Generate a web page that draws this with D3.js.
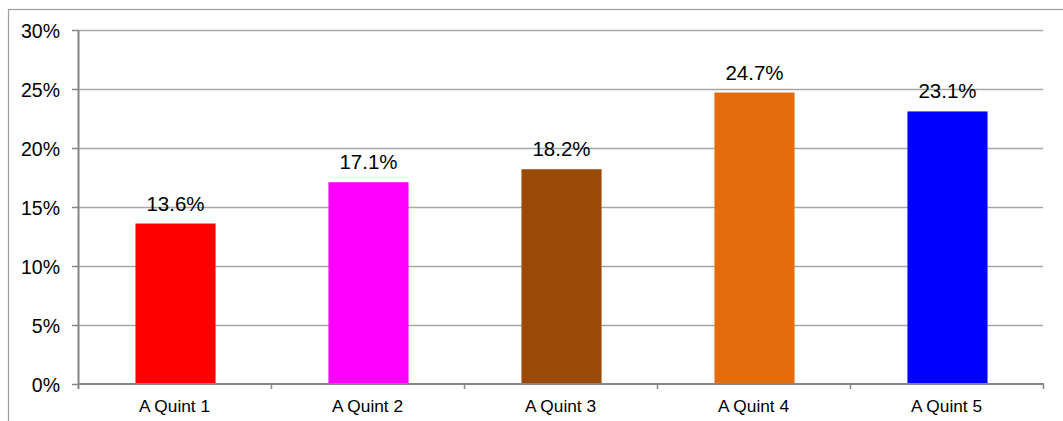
<!DOCTYPE html>
<html>
<head>
<meta charset="utf-8">
<script src="https://cdn.jsdelivr.net/npm/d3@7"></script>
<style>
  html, body { margin: 0; padding: 0; background: #fff; }
  svg { display: block; font-family: "Liberation Sans", Arial, sans-serif; }
</style>
</head>
<body>
<svg id="chart" width="1063" height="421"></svg>
<script>
// Share by quintile
const categories = ["A Quint 1", "A Quint 2", "A Quint 3", "A Quint 4", "A Quint 5"];
const values = [13.6, 17.1, 18.2, 24.7, 23.1];
const barColors = ["#FF0000", "#FF00FF", "#9A4A06", "#E46C0A", "#0000FF"];
const yTicks = [0, 5, 10, 15, 20, 25, 30];

const W = 1063, H = 421;
const plot = { left: 78, right: 1043, top: 30, bottom: 384 };

const svg = d3.select("#chart");

// Outer chart frame (runs past the right and bottom edges)
svg.append("rect")
  .attr("x", 8.5).attr("y", 9.5)
  .attr("width", W + 20).attr("height", H + 20)
  .attr("fill", "none").attr("stroke", "#9c9c9c").attr("stroke-width", 1.2);

const x = d3.scaleBand().domain(categories).range([plot.left, plot.right]).padding(0);
const y = d3.scaleLinear().domain([0, 30]).range([plot.bottom, plot.top]);

// Horizontal gridlines
svg.append("g").selectAll("line")
  .data(yTicks.filter(t => t > 0))
  .join("line")
  .attr("x1", plot.left).attr("x2", plot.right)
  .attr("y1", d => Math.round(y(d)) + 0.5).attr("y2", d => Math.round(y(d)) + 0.5)
  .attr("stroke", "#a6a6a6").attr("stroke-width", 1.5);

// Bars
const barW = x.bandwidth() * 0.415;
svg.append("g").selectAll("rect")
  .data(values)
  .join("rect")
  .attr("x", (d, i) => x(categories[i]) + (x.bandwidth() - barW) / 2 + 1)
  .attr("y", d => y(d))
  .attr("width", barW)
  .attr("height", d => y(0) - y(d))
  .attr("fill", (d, i) => barColors[i]);

// Value labels
svg.append("g").selectAll("text")
  .data(values)
  .join("text")
  .attr("x", (d, i) => x(categories[i]) + x.bandwidth() / 2 + 1)
  .attr("y", d => y(d) - 13)
  .attr("text-anchor", "middle")
  .attr("font-size", "20.5px")
  .attr("fill", "#000")
  .text(d => d.toFixed(1) + "%");

// Y axis
const yAxis = svg.append("g")
  .attr("transform", `translate(${plot.left},0)`)
  .call(d3.axisLeft(y).tickValues(yTicks).tickFormat(d => d + "%").tickSize(6).tickPadding(12));
yAxis.select(".domain").remove();
yAxis.selectAll(".tick line").attr("stroke", "#868686").attr("stroke-width", 1.5);
yAxis.selectAll(".tick text")
  .attr("font-size", "19.5px").attr("fill", "#000")
  .attr("font-family", "'Liberation Sans', Arial, sans-serif")
  .attr("dy", "0.36em");
svg.append("line")
  .attr("x1", plot.left + 0.5).attr("x2", plot.left + 0.5)
  .attr("y1", plot.top).attr("y2", plot.bottom + 5)
  .attr("stroke", "#868686").attr("stroke-width", 2);

// X axis
const xAxis = svg.append("g")
  .attr("transform", `translate(0,${plot.bottom})`)
  .call(d3.axisBottom(x).tickSize(0).tickPadding(16));
xAxis.select(".domain").remove();
xAxis.selectAll(".tick text")
  .attr("font-size", "17.3px").attr("fill", "#000")
  .attr("font-family", "'Liberation Sans', Arial, sans-serif");
svg.append("line")
  .attr("x1", plot.left).attr("x2", plot.right + 1)
  .attr("y1", plot.bottom).attr("y2", plot.bottom)
  .attr("stroke", "#868686").attr("stroke-width", 2);
// Category boundary ticks
const bounds = categories.map(c => x(c)).concat([plot.right]).slice(1);
svg.append("g").selectAll("line")
  .data(bounds)
  .join("line")
  .attr("x1", d => d + 0.5).attr("x2", d => d + 0.5)
  .attr("y1", plot.bottom).attr("y2", plot.bottom + 5)
  .attr("stroke", "#868686").attr("stroke-width", 1.5);
</script>
</body>
</html>
